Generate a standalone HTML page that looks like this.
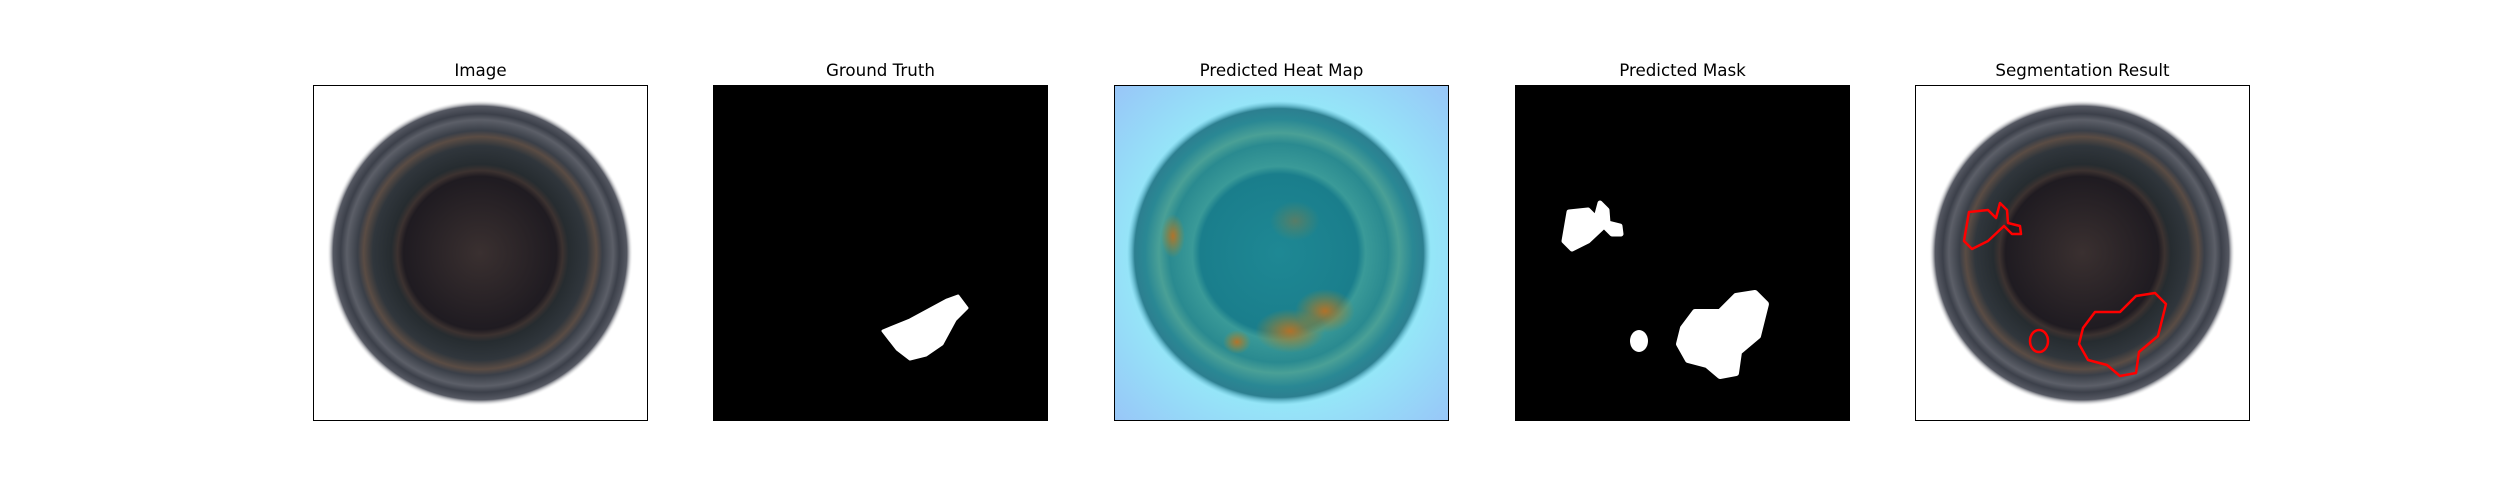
<!DOCTYPE html>
<html><head><meta charset="utf-8">
<style>
html,body{margin:0;padding:0;background:#fff;width:2500px;height:500px;overflow:hidden;font-family:"DejaVu Sans","Liberation Sans",sans-serif;}
.panel{position:absolute;top:85px;width:335px;height:336px;box-sizing:border-box;border:1.3px solid #000;overflow:hidden;}
.title{position:absolute;top:60px;width:335px;text-align:center;font-size:16.7px;color:#000;}
svg{position:absolute;left:0;top:0}
</style></head><body>
<svg width="0" height="0" style="position:absolute">
<defs>
<radialGradient id="bottle" cx="0.5" cy="0.5" r="0.5">
<stop offset="0" stop-color="#3a3030"/>
<stop offset="0.5" stop-color="#1f1b21"/>
<stop offset="0.54" stop-color="#3c3230"/>
<stop offset="0.58" stop-color="#262c30"/>
<stop offset="0.70" stop-color="#30363c"/>
<stop offset="0.76" stop-color="#5a4c44"/>
<stop offset="0.80" stop-color="#3a3f48"/>
<stop offset="0.87" stop-color="#5c5f68"/>
<stop offset="0.91" stop-color="#3c404a"/>
<stop offset="0.96" stop-color="#555862"/>
<stop offset="1" stop-color="#ffffff" stop-opacity="0"/>
</radialGradient>
<radialGradient id="heatbg" cx="0.5" cy="0.5" r="0.72">
<stop offset="0.6" stop-color="#95e8f8"/>
<stop offset="1" stop-color="#98c4f8"/>
</radialGradient>
<radialGradient id="heatdisc" cx="0.5" cy="0.5" r="0.5">
<stop offset="0" stop-color="#1e8894"/>
<stop offset="0.52" stop-color="#1a7e8c"/>
<stop offset="0.57" stop-color="#3a9a98"/>
<stop offset="0.72" stop-color="#2a8a90"/>
<stop offset="0.79" stop-color="#4aa096"/>
<stop offset="0.88" stop-color="#2a8894"/>
<stop offset="0.95" stop-color="#2c7f90"/>
<stop offset="1" stop-color="#60b8d0" stop-opacity="0"/>
</radialGradient>
<radialGradient id="hot" cx="0.5" cy="0.5" r="0.5">
<stop offset="0" stop-color="#c07020" stop-opacity="0.9"/>
<stop offset="1" stop-color="#b08a20" stop-opacity="0"/>
</radialGradient>
</defs></svg>

<div class="title" style="left:313px">Image</div>
<div class="title" style="left:713px">Ground Truth</div>
<div class="title" style="left:1114px">Predicted Heat Map</div>
<div class="title" style="left:1515px">Predicted Mask</div>
<div class="title" style="left:1915px">Segmentation Result</div>

<div class="panel" style="left:313px;background:#fff">
<svg width="335" height="336"><circle cx="166" cy="167" r="153" fill="url(#bottle)"/></svg></div>
<div class="panel" style="left:713px;background:#000;border-color:#000"><svg id="gt" width="335" height="336"></svg></div>
<div class="panel" style="left:1114px">
<svg width="335" height="336"><rect width="335" height="336" fill="url(#heatbg)"/>
<circle cx="164" cy="167" r="152" fill="url(#heatdisc)"/>
<ellipse cx="175" cy="245" rx="35" ry="22" fill="url(#hot)"/>
<ellipse cx="210" cy="225" rx="30" ry="22" fill="url(#hot)"/>
<ellipse cx="122" cy="256" rx="14" ry="12" fill="url(#hot)"/>
<ellipse cx="58" cy="150" rx="12" ry="22" fill="url(#hot)"/>
<ellipse cx="180" cy="135" rx="25" ry="20" fill="url(#hot)" opacity="0.4"/>
</svg></div>
<div class="panel" style="left:1515px;background:#000"><svg id="pm" width="335" height="336"></svg></div>
<div class="panel" style="left:1915px;background:#fff">
<svg id="seg" width="335" height="336"><circle cx="166" cy="167" r="153" fill="url(#bottle)"/></svg></div>

<script>
const gtBlob=[[169,245],[196,234],[233,214],[244,210],[253,222],[241,234],[228,258],[212,269],[196,273],[183,263]];
const predBlobA=[[48,155],[53,126],[72,124],[80,132],[84,117],[91,124],[92,137],[104,140],[105,148],[96,148],[88,140],[72,155],[56,163]];
const predBlobB=[[167,242],[179,226],[204,226],[220,210],[239,207],[250,218],[242,250],[223,266],[220,287],[204,290],[191,279],[172,274],[163,258]];
const predDot=[123,255,9,11];
const NS="http://www.w3.org/2000/svg";
function poly(svg,pts,fill,stroke,w){const p=document.createElementNS(NS,'polygon');p.setAttribute('points',pts.map(q=>q.join(',')).join(' '));p.setAttribute('fill',fill);p.setAttribute('stroke',stroke);p.setAttribute('stroke-width',w);p.setAttribute('stroke-linejoin','round');svg.appendChild(p);return p;}
function ell(svg,d,fill,stroke){const e=document.createElementNS(NS,'ellipse');e.setAttribute('cx',d[0]);e.setAttribute('cy',d[1]);e.setAttribute('rx',d[2]);e.setAttribute('ry',d[3]);e.setAttribute('fill',fill);if(stroke){e.setAttribute('stroke',stroke);e.setAttribute('stroke-width','2.5');}svg.appendChild(e);return e;}
const gt=document.getElementById('gt'),pm=document.getElementById('pm'),seg=document.getElementById('seg');
let m=poly(gt,gtBlob,'#fff','#fff',3);


m=poly(pm,predBlobA,'#fff','#fff',5);


m=poly(pm,predBlobB,'#fff','#fff',6);


m=ell(pm,predDot,'#fff');


m=poly(seg,predBlobA,'none','#f00',2.5);


m=poly(seg,predBlobB,'none','#f00',2.5);


m=ell(seg,predDot,'none','#f00');


</script>
</body></html>
